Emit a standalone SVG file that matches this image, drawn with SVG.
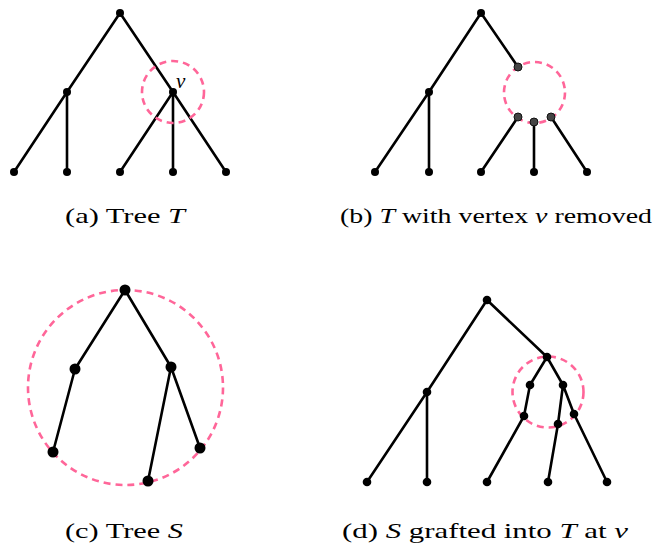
<svg xmlns="http://www.w3.org/2000/svg" width="657" height="555" viewBox="0 0 657 555">
<style>
.e{stroke:#000;stroke-width:2.6;fill:none;stroke-linecap:round}
.c{stroke:#ff6699;stroke-width:2.6;fill:none;stroke-dasharray:7 5}
.n{fill:#000}
.g{fill:#444;stroke:#111;stroke-width:1}
.t{font-family:"Liberation Serif","Times New Roman",serif;font-size:21px;fill:#000}
.i{font-style:italic}
</style>
<rect width="657" height="555" fill="#fff"/>
<g id="connectors">
<path class="e" d="M120 13L67 92M120 13L173 92M67 92L14 172M67 92L67 172M173 92L120 172M173 92L173 172M173 92L226 172"/>
<path class="e" d="M481 13L429 92M481 13L518 67M429 92L375 172M429 92L429 172M518 117L481 172M534 122L534 172M551 117L587 172"/>
<path class="e" d="M125 290L75 369M125 290L171 367M75 369L53 452M171 367L148 481M171 367L200 448"/>
<path class="e" d="M487 300L427 392M487 300L547 357M427 392L367 482M427 392L427 482M547 357L530 385M547 357L563 385M530 385L524 416M563 385L558 424M563 385L574 414M524 416L487 482M558 424L548 482M574 414L607 482"/>
</g>
<g id="circles">
<circle class="c" cx="173" cy="92" r="31"/>
<circle class="c" cx="534.5" cy="92.5" r="30.5"/>
<circle class="c" cx="125.5" cy="387.5" r="97.5"/>
<circle class="c" cx="548" cy="392" r="35.5"/>
</g>
<g id="a-nodes">
<circle class="n" cx="120" cy="13" r="4"/><circle class="n" cx="67" cy="92" r="4"/><circle class="n" cx="173" cy="92" r="4"/>
<circle class="n" cx="14" cy="172" r="4"/><circle class="n" cx="67" cy="172" r="4"/><circle class="n" cx="120" cy="172" r="4"/><circle class="n" cx="173" cy="172" r="4"/><circle class="n" cx="226" cy="172" r="4"/>
<text class="t i" x="176" y="88" font-size="23">v</text>
</g>
<g id="b-nodes">
<circle class="n" cx="481" cy="13" r="4"/><circle class="n" cx="429" cy="92" r="4"/>
<circle class="g" cx="518" cy="67" r="4"/><circle class="g" cx="518" cy="117" r="4"/><circle class="g" cx="534" cy="122" r="4"/><circle class="g" cx="551" cy="117" r="4"/>
<circle class="n" cx="375" cy="172" r="4"/><circle class="n" cx="429" cy="172" r="4"/><circle class="n" cx="481" cy="172" r="4"/><circle class="n" cx="534" cy="172" r="4"/><circle class="n" cx="587" cy="172" r="4"/>
</g>
<g id="c-nodes">
<circle class="n" cx="125" cy="290" r="5.5"/><circle class="n" cx="75" cy="369" r="5.5"/><circle class="n" cx="171" cy="367" r="5.5"/>
<circle class="n" cx="53" cy="452" r="5.5"/><circle class="n" cx="148" cy="481" r="5.5"/><circle class="n" cx="200" cy="448" r="5.5"/>
</g>
<g id="d-nodes">
<circle class="n" cx="487" cy="300" r="4.3"/><circle class="n" cx="427" cy="392" r="4.3"/><circle class="n" cx="547" cy="357" r="4.3"/>
<circle class="n" cx="530" cy="385" r="4.3"/><circle class="n" cx="563" cy="385" r="4.3"/>
<circle class="n" cx="524" cy="416" r="4.3"/><circle class="n" cx="558" cy="424" r="4.3"/><circle class="n" cx="574" cy="414" r="4.3"/>
<circle class="n" cx="367" cy="482" r="4.3"/><circle class="n" cx="427" cy="482" r="4.3"/><circle class="n" cx="487" cy="482" r="4.3"/><circle class="n" cx="548" cy="482" r="4.3"/><circle class="n" cx="607" cy="482" r="4.3"/>
</g>
<g id="captions">
<text class="t" x="65" y="223" textLength="120" lengthAdjust="spacingAndGlyphs">(a) Tree <tspan class="i">T</tspan></text>
<text class="t" x="340" y="223" textLength="312" lengthAdjust="spacingAndGlyphs">(b) <tspan class="i">T</tspan> with vertex <tspan class="i">v</tspan> removed</text>
<text class="t" x="65" y="538" textLength="118" lengthAdjust="spacingAndGlyphs">(c) Tree <tspan class="i">S</tspan></text>
<text class="t" x="342" y="538" textLength="286" lengthAdjust="spacingAndGlyphs">(d) <tspan class="i">S</tspan> grafted into <tspan class="i">T</tspan> at <tspan class="i">v</tspan></text>
</g>
</svg>
